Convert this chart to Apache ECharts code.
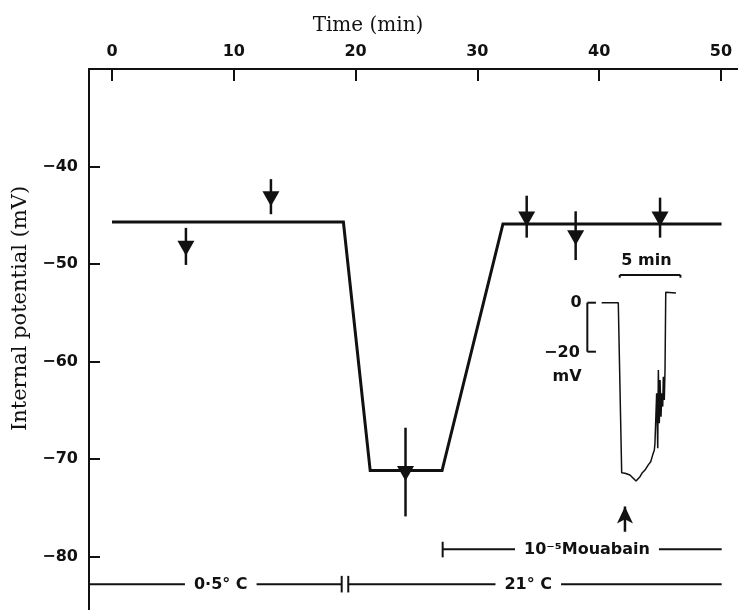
<!DOCTYPE html>
<html><head><meta charset="utf-8">
<script src="https://cdn.jsdelivr.net/npm/echarts@6/dist/echarts.min.js"></script>
<style>html,body{margin:0;padding:0;background:#fff}#c{width:738px;height:610px}</style>
</head><body><div id="c"></div>
<script>
// ---- main record: time (min) vs internal potential (mV)
const mainTime = [0, 19.0, 21.2, 27.1, 32.1, 50.05];
const mainPotential = [-45.7, -45.7, -71.2, -71.2, -45.9, -45.9];
// arrow markers (triangle centre + vertical bar)
const arrowTime = [6.07, 13.05, 24.1, 34.05, 38.07, 45.0];
const arrowCenter = [-48.4, -43.3, -71.5, -45.4, -47.3, -45.4];
const arrowTop = [-46.3, -41.3, -66.8, -43.0, -44.6, -43.2];
const arrowBottom = [-50.1, -44.9, -75.9, -47.3, -49.6, -47.3];
// tick labels
const xTickLabels = [0, 10, 20, 30, 40, 50];
const yTickLabels = [-40, -50, -60, -70, -80];
// condition bars (main axes units): [x1, y1, x2, y2]
const tempBars = [[-1.9, -82.87, 18.86, -82.87], [19.40, -82.87, 50.06, -82.87],
                  [18.86, -82.0, 18.86, -83.7], [19.40, -82.0, 19.40, -83.7]];
const ouabainBars = [[27.15, -79.28, 50.06, -79.28], [27.15, -78.5, 27.15, -80.1]];
const conditionText = ['0·5° C', '21° C', '10⁻⁵Mouabain'];
const conditionX = [8.93, 34.18, 39.0];
const conditionY = [-82.87, -82.87, -79.28];
// ---- inset trace: time (min) vs potential (mV)
const insetTime = [0.96, 2.33, 2.61, 2.88, 3.29, 3.79, 4.12, 4.31, 4.53, 4.80, 5.00, 5.16, 5.30, 5.35,
                   5.49, 5.49, 5.58, 5.63, 5.71, 5.77, 5.85, 5.91, 5.99, 6.04, 6.12, 6.18, 6.24, 7.08];
const insetPotential = [0, 0, -69.4, -69.6, -70.3, -72.8, -71.0, -69.4, -68.3, -66.2, -64.9, -62.2, -60.1, -57.4,
                        -57.4, -37.0, -59.4, -27.5, -49.2, -31.6, -46.5, -37.0, -42.4, -30.2, -39.7, -27.5, 4.3, 4.0];
const insetScaleBars = [[2.45, 11.3, 7.45, 11.3], [2.45, 11.3, 2.45, 10.2], [7.45, 11.3, 7.45, 10.2],
                        [-0.22, 0, -0.22, -20], [-0.22, 0, 0.49, 0], [-0.22, -20, 0.49, -20]];
const insetText = ['5 min', '0', '−20', 'mV'];
const insetTextX = [4.65, -1.15, -2.31, -1.89];
const insetTextY = [17.0, 0, -20.5, -30.3];
const insetArrowTime = 2.88;
const insetArrowFrom = -93.5, insetArrowTo = -83.2;

const INK = '#111';
const sans = 'DejaVu Sans';
const serif = 'DejaVu Serif';

function segRender(width) {
  return function (params, api) {
    const a = api.coord([api.value(0), api.value(1)]);
    const b = api.coord([api.value(2), api.value(3)]);
    return { type: 'line', shape: { x1: a[0], y1: a[1], x2: b[0], y2: b[1] },
             style: { stroke: INK, lineWidth: width } };
  };
}
function textSeries(texts, xs, ys, xi, yi, bg) {
  return {
    type: 'scatter', xAxisIndex: xi, yAxisIndex: yi, silent: true, z: 5,
    symbolSize: 1, itemStyle: { color: 'rgba(0,0,0,0)', opacity: 1 },
    data: texts.map((t, i) => ({ name: t, value: [xs[i], ys[i]] })),
    label: { show: true, position: 'inside', formatter: '{b}', color: INK,
             fontFamily: sans, fontWeight: 'bold', fontSize: 16,
             backgroundColor: bg ? '#fff' : 'transparent', padding: bg ? [1, 9] : 0 }
  };
}

const chart = echarts.init(document.getElementById('c'), null, { renderer: 'canvas' });
chart.setOption({
  animation: false,
  backgroundColor: '#fff',
  grid: [
    { left: 89, right: 0, top: 69, bottom: 0 },
    { left: 541.44, right: 38.74, top: 253.7, bottom: 62.3 }
  ],
  xAxis: [
    { type: 'value', gridIndex: 0, position: 'top', min: -1.888, max: 51.40,
      name: 'Time (min)', nameLocation: 'middle', nameGap: 33,
      nameTextStyle: { fontFamily: serif, fontSize: 20, color: INK, padding: [0, 91, 0, 0] },
      axisLine: { show: true, onZero: false, lineStyle: { color: INK, width: 2 } },
      axisTick: { show: true, inside: true, length: 12, customValues: xTickLabels,
                  lineStyle: { color: INK, width: 2 } },
      axisLabel: { margin: 9, color: INK, fontFamily: sans, fontWeight: 'bold', fontSize: 16,
                   customValues: xTickLabels, formatter: v => String(Math.round(v)) },
      splitLine: { show: false } },
    { type: 'value', gridIndex: 1, min: -4, max: 9, show: false }
  ],
  yAxis: [
    { type: 'value', gridIndex: 0, min: -85.5, max: -30,
      name: 'Internal potential (mV)', nameLocation: 'middle', nameGap: 58, nameRotate: 90,
      nameTextStyle: { fontFamily: serif, fontSize: 21, color: INK, padding: [0, 0, 0, 62] },
      axisLine: { show: true, onZero: false, lineStyle: { color: INK, width: 2 } },
      axisTick: { show: true, inside: true, length: 11, customValues: yTickLabels,
                  lineStyle: { color: INK, width: 2 } },
      axisLabel: { margin: 11, color: INK, fontFamily: sans, fontWeight: 'bold', fontSize: 16,
                   customValues: yTickLabels, formatter: v => '−' + Math.abs(Math.round(v)) },
      splitLine: { show: false } },
    { type: 'value', gridIndex: 1, min: -100, max: 20, show: false }
  ],
  series: [
    { type: 'line', xAxisIndex: 0, yAxisIndex: 0, symbol: 'none', silent: true,
      data: mainTime.map((t, i) => [t, mainPotential[i]]),
      lineStyle: { color: INK, width: 3, join: 'miter' } },
    { type: 'custom', xAxisIndex: 0, yAxisIndex: 0, silent: true, z: 3,
      data: arrowTime.map((t, i) => [t, arrowTop[i], t, arrowBottom[i]]),
      renderItem: segRender(2.5) },
    { type: 'scatter', xAxisIndex: 0, yAxisIndex: 0, silent: true, z: 4,
      symbol: 'triangle', symbolRotate: 180, symbolSize: [17, 15],
      itemStyle: { color: INK, opacity: 1 },
      data: arrowTime.map((t, i) => [t, arrowCenter[i]]) },
    { type: 'custom', xAxisIndex: 0, yAxisIndex: 0, silent: true, z: 2,
      data: tempBars.concat(ouabainBars), renderItem: segRender(2) },
    textSeries(conditionText, conditionX, conditionY, 0, 0, true),
    // inset
    { type: 'line', xAxisIndex: 1, yAxisIndex: 1, symbol: 'none', silent: true,
      data: insetTime.map((t, i) => [t, insetPotential[i]]),
      lineStyle: { color: INK, width: 1.5 } },
    { type: 'custom', xAxisIndex: 1, yAxisIndex: 1, silent: true,
      data: insetScaleBars, renderItem: segRender(2) },
    textSeries(insetText, insetTextX, insetTextY, 1, 1, false),
    { type: 'line', xAxisIndex: 1, yAxisIndex: 1, silent: true,
      lineStyle: { color: INK, width: 2.5 },
      data: [ { value: [insetArrowTime, insetArrowFrom], symbol: 'none' },
              { value: [insetArrowTime, insetArrowTo], symbol: 'arrow', symbolSize: [12, 17] } ],
      itemStyle: { color: INK, opacity: 1 } }
  ]
});
</script></body></html>
